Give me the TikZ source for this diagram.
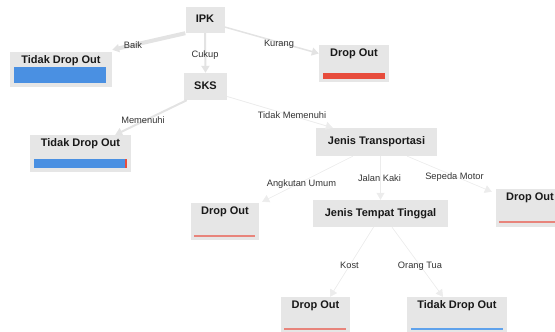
\documentclass[tikz,border=0pt]{standalone}
\usepackage{fontspec}
\setmainfont{Liberation Sans}
\usepackage{xcolor}
\definecolor{boxbg}{HTML}{E6E6E6}
\definecolor{linkgray}{HTML}{E3E3E3}
\definecolor{faintgray}{HTML}{ECECEC}
\definecolor{barblue}{HTML}{4A90E2}
\definecolor{barred}{HTML}{E74C3C}
\definecolor{linered}{HTML}{E8847B}
\definecolor{lineblue}{HTML}{5FA2EC}
\definecolor{labeltext}{HTML}{333333}
\usetikzlibrary{arrows.meta}

\begin{document}
\begin{tikzpicture}[x=1pt,y=-1pt,
                    box/.style={fill=boxbg,inner sep=0pt,text height=8pt,text depth=2.3pt,font=\bfseries\fontsize{11}{13}\selectfont,text=black!90},
                    leaf/.style={fill=boxbg,inner sep=0pt},
                    leaftitle/.style={anchor=base,inner sep=0pt,font=\bfseries\fontsize{11}{13}\selectfont,text=black!90},
                    elabel/.style={anchor=base,inner sep=0pt,font=\fontsize{9.3}{11}\selectfont,text=labeltext},
                    link/.style={-{Triangle[length=7pt,width=8pt]},draw=linkgray,fill=linkgray,line width=#1},
                    link/.default=0.6pt,
                    faint/.style={draw=faintgray,fill=faintgray}]
  \useasboundingbox (0,0) rectangle (555,332);

  \node[box,minimum width=39pt,minimum height=26pt] (ipk) at (205,20) {IPK};
  \node[box,minimum width=43pt,minimum height=27pt] (sks) at (205.5,86.5) {SKS};
  \node[box,minimum width=121pt,minimum height=28pt] (jt) at (376.5,142) {Jenis Transportasi};
  \node[box,minimum width=135pt,minimum height=27pt] (jtt) at (380.5,213.5) {Jenis Tempat Tinggal};

  \node[leaf,minimum width=102pt,minimum height=35pt] (tdoA) at (61,69.5) {};
  \node[leaftitle] (tdoAt) at ([yshift=-11.5pt]tdoA.north) {Tidak Drop Out};
  \node[leaf,minimum width=70pt,minimum height=37pt] (doA) at (354,63.5) {};
  \node[leaftitle] (doAt) at ([yshift=-12pt]doA.north) {Drop Out};
  \node[leaf,minimum width=101pt,minimum height=37pt] (tdoB) at (80.5,153.5) {};
  \node[leaftitle] (tdoBt) at ([yshift=-12pt]tdoB.north) {Tidak Drop Out};
  \node[leaf,minimum width=68pt,minimum height=37pt] (doB) at (225,221.5) {};
  \node[leaftitle] (doBt) at ([yshift=-12pt]doB.north) {Drop Out};
  \node[leaf,minimum width=68pt,minimum height=38pt] (doC) at (530,208) {};
  \node[leaftitle] (doCt) at ([yshift=-12pt]doC.north) {Drop Out};
  \node[leaf,minimum width=69pt,minimum height=37pt] (doD) at (315.5,315.5) {};
  \node[leaftitle] (doDt) at ([yshift=-12pt]doD.north) {Drop Out};
  \node[leaf,minimum width=100pt,minimum height=37pt] (tdoC) at (457,315.5) {};
  \node[leaftitle] (tdoCt) at ([yshift=-12pt]tdoC.north) {Tidak Drop Out};

  \fill[barblue] (14,67) rectangle (106,83);
  \fill[barred] (323,73) rectangle (385,79);
  \fill[barblue] (34,159) rectangle (125,168);
  \fill[barred] (125,159) rectangle (126.5,168);
  \fill[linered] (194,235.3) rectangle (255,236.8);
  \fill[linered] (499,221.3) rectangle (561,222.8);
  \fill[linered] (284,328.3) rectangle (346,329.8);
  \fill[lineblue] (411,328.3) rectangle (503,329.8);

  \draw[link=4pt] (ipk.south west) -- ([yshift=2pt]tdoA.north east);
  \draw[link=2pt] (ipk.south) -- (sks.north);
  \draw[link=1.5pt] ([yshift=-7pt]ipk.east) -- ([yshift=10pt]doA.west);
  \draw[link=2pt] ([xshift=3pt]sks.south west) -- ([xshift=-16pt]tdoB.north east);
  \draw[link=0.8pt,faint] ([yshift=-10pt]sks.east) -- ([xshift=17pt]jt.north west);
  \draw[link,faint] ([xshift=37pt]jt.south west) -- ([xshift=3pt,yshift=1pt]doB.north east);
  \draw[link,faint] (jtt.north |- jt.south) -- (jtt.north);
  \draw[link,faint] ([xshift=-30pt]jt.south east) -- ([xshift=-4pt,yshift=-3pt]doC.north west);
  \draw[link,faint] ([xshift=-7pt]jtt.south) -- ([xshift=14.5pt]doD.north);
  \draw[link,faint] ([xshift=11.5pt]jtt.south) -- ([xshift=-14pt]tdoC.north);

  \node[elabel] (lbaik) at (133,48.4) {Baik};
  \node[elabel] (lcukup) at (205,57.4) {Cukup};
  \node[elabel] (lkurang) at (279,46.4) {Kurang};
  \node[elabel] (lmemenuhi) at (143,123.4) {Memenuhi};
  \node[elabel] (ltidakmem) at (292,118.4) {Tidak Memenuhi};
  \node[elabel] (langkutan) at (301.5,186.4) {Angkutan Umum};
  \node[elabel] (ljalan) at (379.5,181.4) {Jalan Kaki};
  \node[elabel] (lsepeda) at (454.5,179.4) {Sepeda Motor};
  \node[elabel] (lkost) at (349.5,268.4) {Kost};
  \node[elabel] (lortu) at (420,268.4) {Orang Tua};
\end{tikzpicture}
\end{document}
